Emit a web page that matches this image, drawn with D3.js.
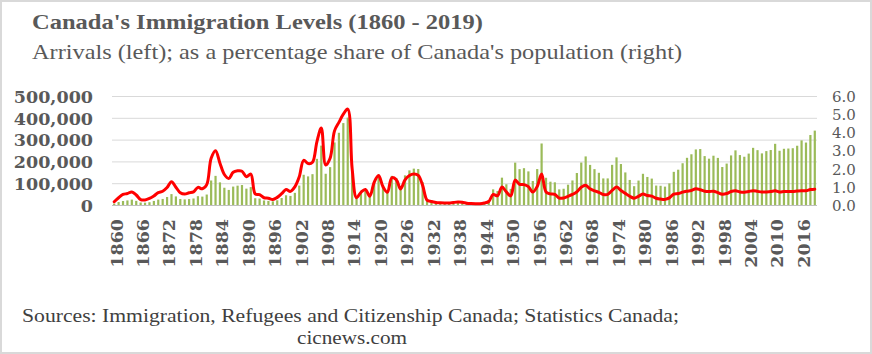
<!DOCTYPE html>
<html><head><meta charset="utf-8">
<script src="https://cdn.jsdelivr.net/npm/d3@7"></script>
<style>body{margin:0;background:#fff}svg{display:block}</style>
</head><body>
<svg id="c" width="872" height="354"></svg>
<script>
const years = d3.range(1860, 2020);
const tickYears = [1860,1866,1872,1878,1884,1890,1896,1902,1908,1914,1920,1926,1932,1938,1944,1950,1956,1962,1968,1974,1980,1986,1992,1998,2004,2010,2016];
const leftTicks = [0,100000,200000,300000,400000,500000];
const rightTicks = [0,1,2,3,4,5,6];
const arrivals = [
6276,13589,18294,21000,24779,18958,11427,10666,12765,18630,
24706,27773,36578,50050,39373,27382,25633,27082,29807,40492,
38505,47991,112458,133624,103824,79169,69152,84526,88766,91600,
75067,82165,30996,29633,20829,18790,16835,21716,31900,44543,
41681,55747,89102,138660,131252,141465,211653,272409,143326,173694,
286839,331288,375756,400870,150484,33665,55914,72910,41845,107698,
138824,91728,64224,133729,124164,84907,135982,158886,166783,164993,
104806,27530,20591,14382,12476,11277,11643,15101,17244,16994,
11324,9329,7576,8504,12801,22722,71719,64127,125414,95217,
73912,194391,164498,168868,154227,109946,164857,282164,124851,106928,
104111,71698,74586,93151,112606,146758,194743,222876,183974,164531,
147713,121900,122006,184200,218465,187881,149429,114914,86313,112096,
143117,128618,121147,89157,88239,84302,99219,152098,161929,191556,
216452,232744,254817,256703,224364,212504,226073,216036,174195,189954,
227458,250638,229048,221349,235823,262242,251640,236753,247247,252174,
280691,248748,257903,259023,260404,271845,296346,286479,321035,341180];
const sharePct = [
0.18,0.40,0.58,0.63,0.72,0.55,0.30,0.28,0.36,0.50,
0.68,0.76,0.96,1.28,0.98,0.67,0.60,0.67,0.72,0.97,
0.89,1.12,2.57,2.99,2.30,1.68,1.46,1.80,1.88,1.86,
1.56,1.70,0.61,0.57,0.40,0.37,0.30,0.42,0.62,0.85,
0.75,1.00,1.55,2.46,2.28,2.35,3.48,4.24,2.20,2.57,
4.08,4.55,5.00,5.28,2.00,0.40,0.70,0.85,0.48,1.25,
1.62,1.00,0.70,1.50,1.40,0.88,1.38,1.62,1.70,1.63,
1.08,0.27,0.19,0.14,0.12,0.11,0.11,0.14,0.16,0.15,
0.10,0.08,0.07,0.07,0.11,0.19,0.58,0.51,0.99,0.72,
0.50,1.37,1.14,1.12,1.01,0.71,1.02,1.70,0.72,0.61,
0.58,0.38,0.39,0.48,0.58,0.72,0.98,1.09,0.89,0.78,
0.70,0.58,0.58,0.80,0.99,0.80,0.64,0.48,0.37,0.48,
0.60,0.52,0.49,0.37,0.33,0.31,0.39,0.60,0.63,0.71,
0.76,0.80,0.89,0.84,0.76,0.74,0.76,0.68,0.59,0.63,
0.74,0.78,0.72,0.70,0.74,0.79,0.75,0.71,0.72,0.74,
0.78,0.72,0.74,0.74,0.74,0.77,0.79,0.78,0.85,0.87];

const svg = d3.select("#c");
const L = 112, R = 817, T = 96, B = 205;
const x = d3.scaleBand().domain(years).range([L, R]).paddingInner(0.5).paddingOuter(0.25);
const yL = d3.scaleLinear().domain([0, 500000]).range([B, T]);
const yR = d3.scaleLinear().domain([0, 6]).range([B, T]);

svg.append("rect").attr("x",1).attr("y",1).attr("width",870).attr("height",352)
  .attr("fill","#fff").attr("stroke","#d9d9d9").attr("stroke-width",2);

// gridlines
svg.append("g").selectAll("line").data(leftTicks.slice(1)).join("line")
  .attr("x1", L).attr("x2", R).attr("y1", d => yL(d)+0.5).attr("y2", d => yL(d)+0.5)
  .attr("stroke", "#d9d9d9").attr("stroke-width", 1);

// bars
svg.append("g").selectAll("rect").data(years).join("rect")
  .attr("x", (d) => x(d)).attr("width", x.bandwidth())
  .attr("y", (d,i) => yL(arrivals[i])).attr("height", (d,i) => B - yL(arrivals[i]))
  .attr("fill", "#9bbb59");

// baseline
svg.append("line").attr("x1", L).attr("x2", R).attr("y1", B+0.5).attr("y2", B+0.5)
  .attr("stroke", "#bfbfbf").attr("stroke-width", 1);

// line
const line = d3.line()
  .x((d,i) => x(years[i]) + x.bandwidth()/2)
  .y(d => yR(d))
  .curve(d3.curveCatmullRom.alpha(0.5));
svg.append("path").datum(sharePct).attr("d", line)
  .attr("fill", "none").attr("stroke", "#ff0000").attr("stroke-width", 3)
  .attr("stroke-linejoin", "round").attr("stroke-linecap", "round");

// left axis
const axL = d3.axisLeft(yL).tickValues(leftTicks).tickFormat(d3.format(",")).tickSize(0).tickPadding(0);
const gL = svg.append("g").attr("transform", "translate(93,0)").call(axL);
gL.select(".domain").remove();
gL.selectAll("text").attr("font-family", "DejaVu Serif").attr("font-weight", "bold")
  .attr("font-size", "17.5px").attr("fill", "#595959").attr("dy", "0.36em");

// right axis
const axR = d3.axisRight(yR).tickValues(rightTicks).tickFormat(d3.format(".1f")).tickSize(0).tickPadding(0);
const gR = svg.append("g").attr("transform", "translate(832,0)").call(axR);
gR.select(".domain").remove();
gR.selectAll("text").attr("font-family", "DejaVu Serif")
  .attr("font-size", "15px").attr("fill", "#595959").attr("dy", "0.36em");

// x axis
const axX = d3.axisBottom(x).tickValues(tickYears).tickSize(0).tickPadding(0);
const gX = svg.append("g").attr("transform", `translate(0,${B})`).call(axX);
gX.select(".domain").remove();
gX.selectAll("text").attr("font-family", "DejaVu Serif").attr("font-weight", "bold")
  .attr("font-size", "17.5px").attr("fill", "#595959")
  .attr("text-anchor", "end").attr("transform", "translate(2,14) rotate(-90)")
  .attr("x", 0).attr("y", 0).attr("dy", "0.36em");

// titles
svg.append("text").attr("x", 32).attr("y", 29).text("Canada's Immigration Levels (1860 - 2019)")
  .attr("font-family", "Liberation Serif").attr("font-weight", "bold").attr("font-size", "21px")
  .attr("fill", "#595959").attr("textLength", 451).attr("lengthAdjust", "spacingAndGlyphs");
svg.append("text").attr("x", 32).attr("y", 59).text("Arrivals (left); as a percentage share of Canada's population (right)")
  .attr("font-family", "Liberation Serif").attr("font-size", "21px")
  .attr("fill", "#595959").attr("textLength", 650).attr("lengthAdjust", "spacingAndGlyphs");

// sources
svg.append("text").attr("x", 22).attr("y", 322).text("Sources: Immigration, Refugees and Citizenship Canada; Statistics Canada;")
  .attr("font-family", "Liberation Serif").attr("font-size", "19px")
  .attr("fill", "#404040").attr("textLength", 657).attr("lengthAdjust", "spacingAndGlyphs");
svg.append("text").attr("x", 297).attr("y", 344).text("cicnews.com")
  .attr("font-family", "Liberation Serif").attr("font-size", "19px")
  .attr("fill", "#404040").attr("textLength", 110).attr("lengthAdjust", "spacingAndGlyphs");
</script>
</body></html>
